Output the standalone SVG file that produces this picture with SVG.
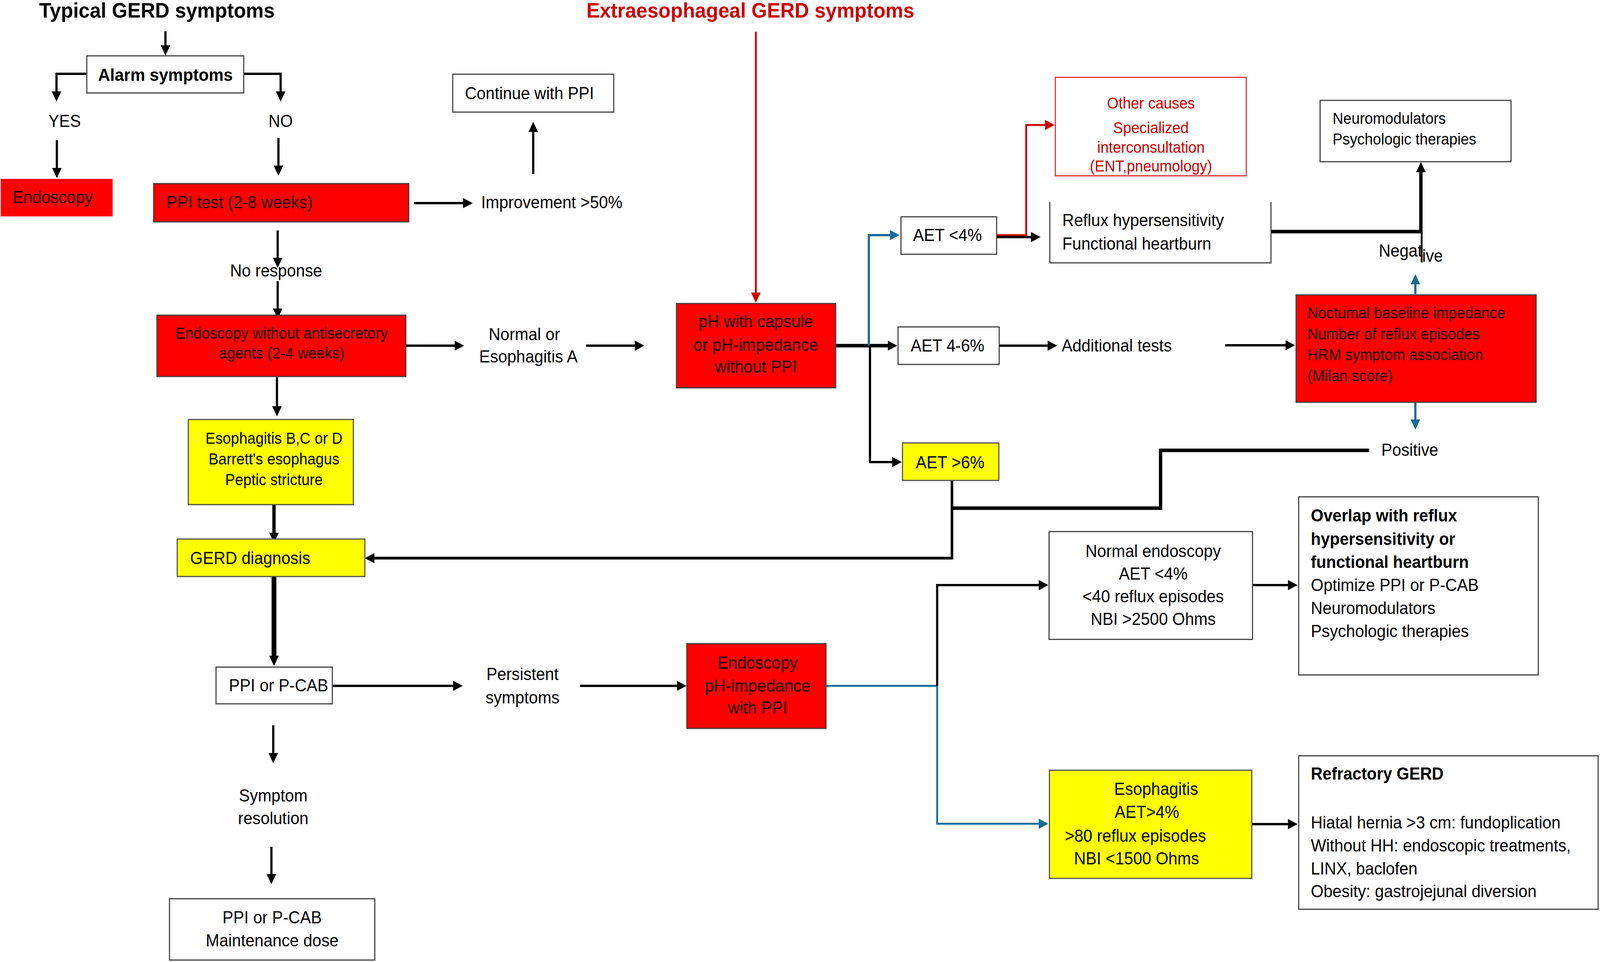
<svg xmlns="http://www.w3.org/2000/svg" width="4333" height="2463" viewBox="0 0 4333 2463">
<style>
text{font-family:"Liberation Sans",Arial,Helvetica,sans-serif;font-size:44px;fill:#000}
.s40{font-size:40px}
.h{font-size:54px;font-weight:bold}
.b{font-weight:bold}
.c{text-anchor:middle}
.rt{fill:#1a0000}
.rc{fill:#cc0000}
.box{fill:#fff;stroke:#404040;stroke-width:3}
.red{fill:#ff0000;stroke:#404040;stroke-width:3}
.yel{fill:#ffff00;stroke:#505050;stroke-width:3}
.ln{fill:none;stroke:#000;stroke-width:6}
.thk{stroke-width:9}
.blue{fill:none;stroke:#1b6b93;stroke-width:6}
.rl{fill:none;stroke:#cc0000;stroke-width:5}
</style>
<defs>
<marker id="a" viewBox="0 0 10 10" refX="2.3" refY="5" markerWidth="26" markerHeight="28" markerUnits="userSpaceOnUse" orient="auto"><path d="M0,0 L10,5 L0,10 z" fill="#000"/></marker>
<marker id="ab" viewBox="0 0 10 10" refX="2.3" refY="5" markerWidth="26" markerHeight="26" markerUnits="userSpaceOnUse" orient="auto"><path d="M0,0 L10,5 L0,10 z" fill="#1b6b93"/></marker>
<marker id="ar" viewBox="0 0 10 10" refX="2.3" refY="5" markerWidth="26" markerHeight="26" markerUnits="userSpaceOnUse" orient="auto"><path d="M0,0 L10,5 L0,10 z" fill="#cc0000"/></marker>
</defs>
<rect width="4333" height="2463" fill="#fff"/>
<g transform="scale(0.9453,1)">

<g id="connectors">
<path class="ln" d="M448,80 V122" marker-end="url(#a)"/>
<path class="ln" d="M235,189 H153 V240" marker-end="url(#a)"/>
<path class="ln" d="M660,189 H760 V240" marker-end="url(#a)"/>
<path class="ln" d="M154,359 V436" marker-end="url(#a)"/>
<path class="ln" d="M754,353 V430" marker-end="url(#a)"/>
<path class="ln" d="M1121,520 H1260" marker-end="url(#a)"/>
<path class="ln" d="M1444,446 V332" marker-end="url(#a)"/>
<path class="ln" d="M752,590 V666" marker-end="url(#a)"/>
<path class="ln" d="M752,720 V796" marker-end="url(#a)"/>
<path class="ln" d="M1099,885 H1237" marker-end="url(#a)"/>
<path class="ln" d="M1587,885 H1725" marker-end="url(#a)"/>
<path class="rl" d="M2047,81 V755" marker-end="url(#ar)"/>
<path class="ln thk" d="M2263,885 H2410" marker-end="url(#a)"/>
<path class="blue" d="M2353,885 V602 H2416" marker-end="url(#ab)"/>
<path class="ln" d="M2356,885 V1183 H2422" marker-end="url(#a)"/>
<path class="rl" d="M2699,602 H2779 V320 H2836" marker-end="url(#ar)"/>
<path class="ln" d="M2699,607 H2798" marker-end="url(#a)"/>
<path class="ln" d="M2706,885 H2843" marker-end="url(#a)"/>
<path class="ln" d="M3318,884 H3487" marker-end="url(#a)"/>
<path class="ln thk" d="M3442,593 H3852"/>
<path class="ln thk" d="M3848,597 V435" marker-end="url(#a)"/>
<path class="ln" style="stroke-width:5" d="M3850,593 V672"/>
<path class="blue" d="M3833,753 V722" marker-end="url(#ab)"/>
<path class="blue" d="M3833,1030 V1080" marker-end="url(#ab)"/>
<path class="ln thk" d="M3708,1153 H3143 V1301 H2578"/>
<path class="ln" style="stroke-width:7" d="M2578,1230 V1429 H1008" marker-end="url(#a)"/>
<path class="ln" d="M750,966 V1046" marker-end="url(#a)"/>
<path class="ln thk" d="M742,1292 V1370" marker-end="url(#a)"/>
<path class="ln" style="stroke-width:13" d="M742,1476 V1685" marker-end="url(#a)"/>
<path class="ln" d="M900,1756 H1233" marker-end="url(#a)"/>
<path class="ln" d="M1571,1756 H1839" marker-end="url(#a)"/>
<path class="blue" style="stroke-width:5" d="M2237,1756 H2538 V2109 H2819" marker-end="url(#ab)"/>
<path class="ln" d="M2538,1756 V1498 H2819" marker-end="url(#a)"/>
<path class="ln" d="M3392,1498 H3494" marker-end="url(#a)"/>
<path class="ln" d="M3390,2110 H3494" marker-end="url(#a)"/>
<path class="ln" d="M740,1857 V1934" marker-end="url(#a)"/>
<path class="ln" d="M735,2168 V2244" marker-end="url(#a)"/>
</g>

<g id="title-typical"><text class="h" x="106" y="45">Typical GERD symptoms</text></g>
<g id="title-extra"><text class="h rc" x="1588" y="45">Extraesophageal GERD symptoms</text></g>

<g id="alarm"><rect class="box" x="235" y="143" width="425" height="95"/><text class="b c" x="448" y="207" style="font-size:45px">Alarm symptoms</text></g>
<g id="yes"><text class="c" x="175" y="325">YES</text></g>
<g id="no"><text class="c" x="760" y="325">NO</text></g>
<g id="endoscopy"><rect x="2" y="458" width="303" height="96" fill="#ff0000"/><text class="rt" x="34" y="520">Endoscopy</text></g>
<g id="ppi-test"><rect class="red" x="416" y="470" width="691" height="98"/><text class="rt" x="451" y="533">PPI test (2-8 weeks)</text></g>
<g id="improvement"><text x="1303" y="533">Improvement &gt;50%</text></g>
<g id="continue"><rect class="box" x="1226" y="190" width="436" height="97"/><text x="1259" y="254">Continue with PPI</text></g>
<g id="no-response"><text x="623" y="708">No response</text></g>
<g id="endo-wo"><rect class="red" x="425" y="807" width="674" height="157"/><text class="s40 c rt" x="763" y="867">Endoscopy without antisecretory</text><text class="s40 c rt" x="763" y="918">agents (2-4 weeks)</text></g>
<g id="normal-a"><text class="c" x="1420" y="871">Normal or</text><text class="c" x="1431" y="928">Esophagitis A</text></g>
<g id="ph-capsule"><rect class="red" x="1832" y="777" width="431" height="216"/><text class="c rt" x="2047" y="838">pH with capsule</text><text class="c rt" x="2047" y="898">or pH-impedance</text><text class="c rt" x="2047" y="954">without PPI</text></g>
<g id="aet4"><rect class="box" x="2440" y="555" width="259" height="96"/><text class="c" x="2566" y="617">AET &lt;4%</text></g>
<g id="aet46"><rect class="box" x="2432" y="837" width="274" height="96"/><text class="c" x="2566" y="900">AET 4-6%</text></g>
<g id="aet6"><rect class="yel" x="2444" y="1134" width="261" height="96"/><text class="c" x="2573" y="1199">AET &gt;6%</text></g>
<g id="other-causes"><rect x="2858" y="198" width="517" height="252" fill="#fff" stroke="#e03030" stroke-width="3"/><text class="s40 c rc" x="3117" y="278">Other causes</text><text class="s40 c rc" x="3117" y="341">Specialized</text><text class="s40 c rc" x="3117" y="391">interconsultation</text><text class="s40 c rc" x="3117" y="439">(ENT,pneumology)</text></g>
<g id="reflux-hyp"><path d="M2843,517 V673 H3442 V517" fill="#fff" stroke="#404040" stroke-width="3"/><text x="2877" y="579">Reflux hypersensitivity</text><text x="2877" y="639">Functional heartburn</text></g>
<g id="neuromod"><rect class="box" x="3575" y="257" width="517" height="157"/><text class="s40" x="3609" y="317">Neuromodulators</text><text class="s40" x="3609" y="370">Psychologic therapies</text></g>
<g id="negative"><text x="3734" y="657">Negat<tspan dy="13">ive</tspan></text></g>
<g id="additional"><text x="2875" y="900">Additional tests</text></g>
<g id="nocturnal"><rect class="red" x="3510" y="755" width="650" height="275"/><text class="s40 rt" x="3541" y="815">Noctumal baseline impedance</text><text class="s40 rt" x="3541" y="869">Number of reflux episodes</text><text class="s40 rt" x="3541" y="922">HRM symptom association</text><text class="s40 rt" x="3541" y="976">(Milan score)</text></g>
<g id="positive"><text x="3741" y="1167">Positive</text></g>
<g id="esoph-bcd"><rect class="yel" x="510" y="1074" width="447" height="218"/><text class="s40 c" x="742" y="1136">Esophagitis B,C or D</text><text class="s40 c" x="742" y="1189">Barrett's esophagus</text><text class="s40 c" x="742" y="1242">Peptic stricture</text></g>
<g id="gerd-dx"><rect class="yel" x="480" y="1380" width="508" height="96"/><text x="515" y="1444">GERD diagnosis</text></g>
<g id="ppi-pcab"><rect class="box" x="585" y="1708" width="315" height="94"/><text x="620" y="1770">PPI or P-CAB</text></g>
<g id="persistent"><text class="c" x="1415" y="1741">Persistent</text><text class="c" x="1415" y="1801">symptoms</text></g>
<g id="endo-ph"><rect class="red" x="1860" y="1648" width="377" height="217"/><text class="c rt" x="2052" y="1712">Endoscopy</text><text class="c rt" x="2052" y="1771">pH-impedance</text><text class="c rt" x="2052" y="1827">with PPI</text></g>
<g id="normal-endo"><rect class="box" x="2841" y="1361" width="551" height="276"/><text class="c" x="3123" y="1426">Normal endoscopy</text><text class="c" x="3123" y="1484">AET &lt;4%</text><text class="c" x="3123" y="1542">&lt;40 reflux episodes</text><text class="c" x="3123" y="1600">NBI &gt;2500 Ohms</text></g>
<g id="overlap"><rect class="box" x="3517" y="1272" width="649" height="456"/><text class="b" x="3550" y="1335">Overlap with reflux</text><text class="b" x="3550" y="1395">hypersensitivity or</text><text class="b" x="3550" y="1454">functional heartburn</text><text x="3550" y="1513">Optimize PPI or P-CAB</text><text x="3550" y="1572">Neuromodulators</text><text x="3550" y="1631">Psychologic therapies</text></g>
<g id="esoph-aet"><rect class="yel" x="2842" y="1972" width="548" height="277"/><text class="c" x="3131" y="2035">Esophagitis</text><text class="c" x="3106" y="2094">AET&gt;4%</text><text class="c" x="3075" y="2155">&gt;80 reflux episodes</text><text class="c" x="3078" y="2213">NBI &lt;1500 Ohms</text></g>
<g id="refractory"><rect class="box" x="3517" y="1935" width="811" height="393"/><text class="b" x="3550" y="1996">Refractory GERD</text><text x="3550" y="2121">Hiatal hernia &gt;3 cm: fundoplication</text><text x="3550" y="2180">Without HH: endoscopic treatments,</text><text x="3550" y="2239">LINX, baclofen</text><text x="3550" y="2297">Obesity: gastrojejunal diversion</text></g>
<g id="symptom-res"><text class="c" x="740" y="2052">Symptom</text><text class="c" x="740" y="2110">resolution</text></g>
<g id="maintenance"><rect class="box" x="459" y="2301" width="556" height="157"/><text class="c" x="737" y="2364">PPI or P-CAB</text><text class="c" x="737" y="2423">Maintenance dose</text></g>
</g>
</svg>
